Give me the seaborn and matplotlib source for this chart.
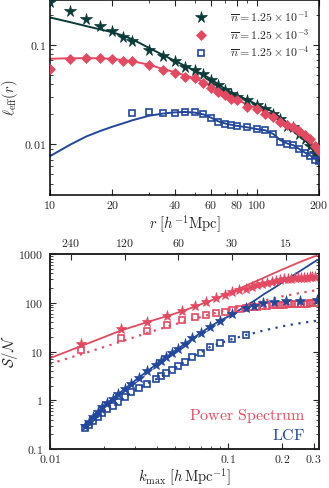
import numpy as np
import matplotlib
matplotlib.use('Agg')
import matplotlib.pyplot as plt
import matplotlib.ticker as mticker
import seaborn as sns

# --- top panel: effective ell vs separation r [h^-1 Mpc] ---
r_bins = [10, 12.5, 15, 17.5, 20, 22.5, 25, 30, 35, 40, 45, 50, 55, 60, 65,
          70, 75, 80, 90, 100, 110, 120, 130, 140, 150, 160, 170, 180, 190, 200]

leff_n1 = [0.265, 0.218, 0.18, 0.153, 0.137, 0.119, 0.108, 0.089, 0.076, 0.0677,
           0.060, 0.0557, 0.0503, 0.044, 0.039, 0.0348, 0.032, 0.030, 0.0276, 0.025,
           0.0227, 0.0202, 0.018, 0.0154, 0.0148, 0.0126, 0.0112, 0.0096, 0.0081, 0.0076]
leff_n3 = [0.057, 0.0715, 0.073, 0.073, 0.0715, 0.0688, 0.0677, 0.0626, 0.0557, 0.0515,
           0.0477, 0.0458, 0.0408, 0.0363, 0.0335, 0.031, 0.0287, 0.0276, 0.0236, 0.0227,
           0.0202, 0.0187, 0.0169, 0.0156, 0.0148, 0.0137, 0.0124, 0.0112, 0.0096, 0.0086]
r_n4 = r_bins[6:]
leff_n4 = [0.0206, 0.0209, 0.0206, 0.0206, 0.0213, 0.0209, 0.0202, 0.0182, 0.0166, 0.016,
           0.0156, 0.0152, 0.0148, 0.0142, 0.014, 0.0126, 0.0106, 0.0100, 0.0098, 0.0089,
           0.0081, 0.0077, 0.0070, 0.0068]

model_n1 = [0.187, 0.168, 0.153, 0.142, 0.133, 0.123, 0.113, 0.093, 0.079, 0.069,
            0.061, 0.055, 0.050, 0.045, 0.040, 0.036, 0.033, 0.031, 0.028, 0.025,
            0.023, 0.021, 0.0185, 0.0165, 0.0146, 0.0128, 0.0112, 0.0098, 0.0083, 0.0068]
model_n3 = [0.072, 0.073, 0.073, 0.073, 0.072, 0.070, 0.068, 0.063, 0.057, 0.053,
            0.049, 0.046, 0.042, 0.038, 0.035, 0.032, 0.030, 0.028, 0.025, 0.023,
            0.021, 0.0188, 0.0170, 0.0156, 0.0146, 0.0135, 0.0122, 0.0110, 0.0095, 0.0080]
model_n4 = [0.0076, 0.0099, 0.0120, 0.0136, 0.0150, 0.0162, 0.0174, 0.0193, 0.0203, 0.0209,
            0.0211, 0.0208, 0.0200, 0.0185, 0.0170, 0.0162, 0.0157, 0.0153, 0.0148, 0.0142,
            0.0138, 0.0127, 0.0110, 0.0102, 0.0098, 0.0090, 0.0083, 0.0078, 0.0072, 0.0066]

# --- bottom panel: signal to noise vs k_max ---
k_pk = [0.015, 0.025, 0.035, 0.045, 0.055, 0.065, 0.075, 0.085, 0.095, 0.105,
        0.115, 0.125, 0.135, 0.145, 0.155, 0.165, 0.175, 0.185, 0.195, 0.205,
        0.215, 0.225, 0.235, 0.245, 0.255, 0.265, 0.275, 0.285, 0.295, 0.305]
sn_pk_hi = [14.4, 28.7, 41, 53.7, 69, 87.5, 106, 124, 144, 165,
            180, 196, 212, 228, 244, 258, 270, 282, 292, 300,
            307, 313, 318, 322, 325, 327, 329, 330, 331, 332]
sn_pk_lo = [10.5, 18.8, 26.9, 35.2, 44.5, 50.5, 56, 63, 66, 71,
            75, 78, 81, 83, 85, 87, 88.5, 90, 91, 92,
            93, 94, 94.5, 95, 95.5, 96, 96.5, 97, 97, 97]
k_pk_model = [0.01, 0.015, 0.025, 0.035, 0.045, 0.055, 0.065, 0.075, 0.085, 0.1,
              0.15, 0.2, 0.25, 0.3, 0.313]
sn_pk_model_hi = [7.3, 13, 27, 40, 53, 67, 84, 102, 122, 157, 300, 480, 680, 880, 920]
sn_pk_model_lo = [5.6, 8.8, 16, 24, 32, 40, 47, 55, 62, 72, 105, 135, 158, 177, 180]

# LCF evaluated at k_max = pi / r
k_lcf = np.pi / np.array(r_bins, dtype=float)
sn_lcf_hi = [114, 110, 109, 103, 98, 86, 77, 58, 43, 32,
             24, 18.5, 14.5, 11.5, 9.4, 7.7, 6.4, 5.4, 3.9, 2.9,
             2.2, 1.7, 1.35, 1.08, 0.88, 0.72, 0.58, 0.46, 0.36, 0.29]
sn_lcf_lo = [None] * 6 + [21.9, 17.9, 14.8, 12.3, 9.5, 7.8, 6.2, 5.1, 4.2, 3.6,
                          3.1, 2.7, 2.2, 1.75, 1.45, 1.15, 0.90, 0.77, 0.66, 0.55,
                          0.45, 0.37, 0.31, 0.27]
sn_lcf_model_hi = [754, 446, 291, 200, 148, 110, 87.5, 57, 43, 32,
                   24, 18.5, 14.5, 11.5, 9.4, 7.7, 6.4, 5.4, 3.9, 2.9,
                   2.2, 1.7, 1.35, 1.08, 0.88, 0.72, 0.58, 0.46, 0.36, 0.28]
sn_lcf_model_lo = [43, 38, 34, 30, 27, 24] + sn_lcf_lo[6:]

r_top_ticks = [240, 120, 60, 30, 15]

dark = '#0b3a38'
red = '#e34a62'
blue = '#23479b'

sns.set_style('ticks')
plt.rcParams['mathtext.fontset'] = 'cm'
plt.rcParams['font.family'] = ['DejaVu Serif']

fig = plt.figure(figsize=(3.29, 4.88), dpi=100)
ax1 = fig.add_axes([0.152, 0.6004, 0.818, 0.3996])
ax2 = fig.add_axes([0.152, 0.0799, 0.818, 0.3996])

# top panel
sns.lineplot(x=r_bins, y=model_n1, ax=ax1, color=dark, lw=1.4, zorder=2)
sns.lineplot(x=r_bins, y=model_n3, ax=ax1, color=red, lw=1.4, zorder=2)
sns.lineplot(x=r_bins, y=model_n4, ax=ax1, color=blue, lw=1.4, zorder=2)
sns.lineplot(x=r_bins, y=leff_n1, ax=ax1, color=dark, ls='', marker='*', ms=8.5,
             mec=dark, mew=0.5, zorder=3, label=r'$\overline{n} = 1.25\times10^{-1}$')
sns.lineplot(x=r_bins, y=leff_n3, ax=ax1, color=red, ls='', marker='D', ms=5,
             mec=red, mew=0.5, zorder=3, label=r'$\overline{n} = 1.25\times10^{-3}$')
sns.lineplot(x=r_n4, y=leff_n4, ax=ax1, color=blue, ls='', marker='s', ms=4.5,
             mfc='none', mec=blue, mew=1.2, zorder=3, label=r'$\overline{n} = 1.25\times10^{-4}$')

ax1.set_xscale('log')
ax1.set_yscale('log')
ax1.set_xlim(10, 200)
ax1.set_ylim(0.0031, 0.28)
ax1.set_xticks([10, 20, 40, 60, 80, 100, 200])
ax1.set_xticklabels(['$10$', '$20$', '$40$', '$60$', '$80$', '$100$', '$200$'])
ax1.xaxis.set_minor_locator(mticker.LogLocator(subs=np.arange(2, 10)))
ax1.xaxis.set_minor_formatter(mticker.NullFormatter())
ax1.set_yticks([0.01, 0.1])
ax1.set_yticklabels(['$0.01$', '$0.1$'])
ax1.yaxis.set_minor_locator(mticker.LogLocator(subs=np.arange(2, 10)))
ax1.yaxis.set_minor_formatter(mticker.NullFormatter())
ax1.set_xlabel(r'$r\ [h^{-1}\mathrm{Mpc}]$', fontsize=10.5, labelpad=1)
ax1.set_ylabel(r'$\ell_{\mathrm{eff}}(r)$', fontsize=10.5)
ax1.yaxis.set_label_coords(-0.112, 0.5)
leg = ax1.legend(loc='upper right', frameon=False, fontsize=8.5, handlelength=1.0,
                 handletextpad=2.0, labelspacing=0.25, borderaxespad=0.4,
                 bbox_to_anchor=(1.0, 1.0))

# bottom panel
sns.lineplot(x=k_pk_model, y=sn_pk_model_hi, ax=ax2, color=red, lw=1.3, zorder=2)
sns.lineplot(x=k_pk_model, y=sn_pk_model_lo, ax=ax2, color=red, lw=1.6, ls=(0, (1, 2.5)), zorder=2)
sns.lineplot(x=k_lcf, y=sn_lcf_model_hi, ax=ax2, color=blue, lw=1.3, zorder=2)
sns.lineplot(x=k_lcf, y=sn_lcf_model_lo, ax=ax2, color=blue, lw=1.6, ls=(0, (1, 2.5)), zorder=2)
sns.lineplot(x=k_pk, y=sn_pk_hi, ax=ax2, color=red, ls='', marker='*', ms=8,
             mec=red, mew=0.5, zorder=3)
sns.lineplot(x=k_pk, y=sn_pk_lo, ax=ax2, color=red, ls='', marker='s', ms=4.5,
             mfc='none', mec=red, mew=1.2, zorder=3)
sns.lineplot(x=k_lcf, y=sn_lcf_hi, ax=ax2, color=blue, ls='', marker='*', ms=8,
             mec=blue, mew=0.5, zorder=3)
sns.lineplot(x=k_lcf, y=[np.nan if v is None else v for v in sn_lcf_lo], ax=ax2,
             color=blue, ls='', marker='s', ms=4.5, mfc='none', mec=blue, mew=1.2, zorder=3)

ax2.set_xscale('log')
ax2.set_yscale('log')
ax2.set_xlim(0.01, 0.322)
ax2.set_ylim(0.1, 1000)
ax2.set_xticks([0.01, 0.1, 0.2, 0.3])
ax2.set_xticklabels(['$0.01$', '$0.1$', '$0.2$', '$0.3$'])
ax2.xaxis.set_minor_locator(mticker.LogLocator(subs=np.arange(2, 10)))
ax2.xaxis.set_minor_formatter(mticker.NullFormatter())
ax2.set_yticks([0.1, 1, 10, 100, 1000])
ax2.set_yticklabels(['$0.1$', '$1$', '$10$', '$100$', '$1000$'])
ax2.yaxis.set_minor_locator(mticker.LogLocator(subs=np.arange(2, 10)))
ax2.yaxis.set_minor_formatter(mticker.NullFormatter())
ax2.set_xlabel(r'$k_{\max}\ [h\,\mathrm{Mpc}^{-1}]$', fontsize=10.5, labelpad=0)
ax2.set_ylabel(r'$\mathcal{S}/\mathcal{N}$', fontsize=10.5)
ax2.yaxis.set_label_coords(-0.112, 0.5)
ax2.text(0.948, 0.169, r'$\mathrm{Power\ Spectrum}$', transform=ax2.transAxes,
         ha='right', va='center', color=red, fontsize=11.5)
ax2.text(0.948, 0.067, r'$\mathrm{LCF}$', transform=ax2.transAxes,
         ha='right', va='center', color=blue, fontsize=11.5)

# top axis of the bottom panel: separation r = pi / k
axt = ax2.twiny()
axt.set_xscale('log')
axt.set_xlim(ax2.get_xlim())
axt.set_xticks([np.pi / r for r in r_top_ticks])
axt.set_xticklabels(['$%d$' % r for r in r_top_ticks])
axt.xaxis.set_minor_locator(mticker.NullLocator())
axt.tick_params(axis='x', direction='in', length=4, width=0.8, labelsize=8.5, pad=3)

for ax in (ax1, ax2):
    for s in ax.spines.values():
        s.set_linewidth(1.1)
        s.set_color('black')
    ax.tick_params(which='both', direction='in', left=True, right=True, bottom=True,
                   top=(ax is ax1), labelsize=8.5)
    ax.tick_params(which='major', length=4, width=0.8, pad=3)
    ax.tick_params(which='minor', length=2, width=0.6)
ax2.tick_params(axis='y', which='major', pad=5)
for s in axt.spines.values():
    s.set_linewidth(1.1)

fig.savefig('out.png', dpi=100)
